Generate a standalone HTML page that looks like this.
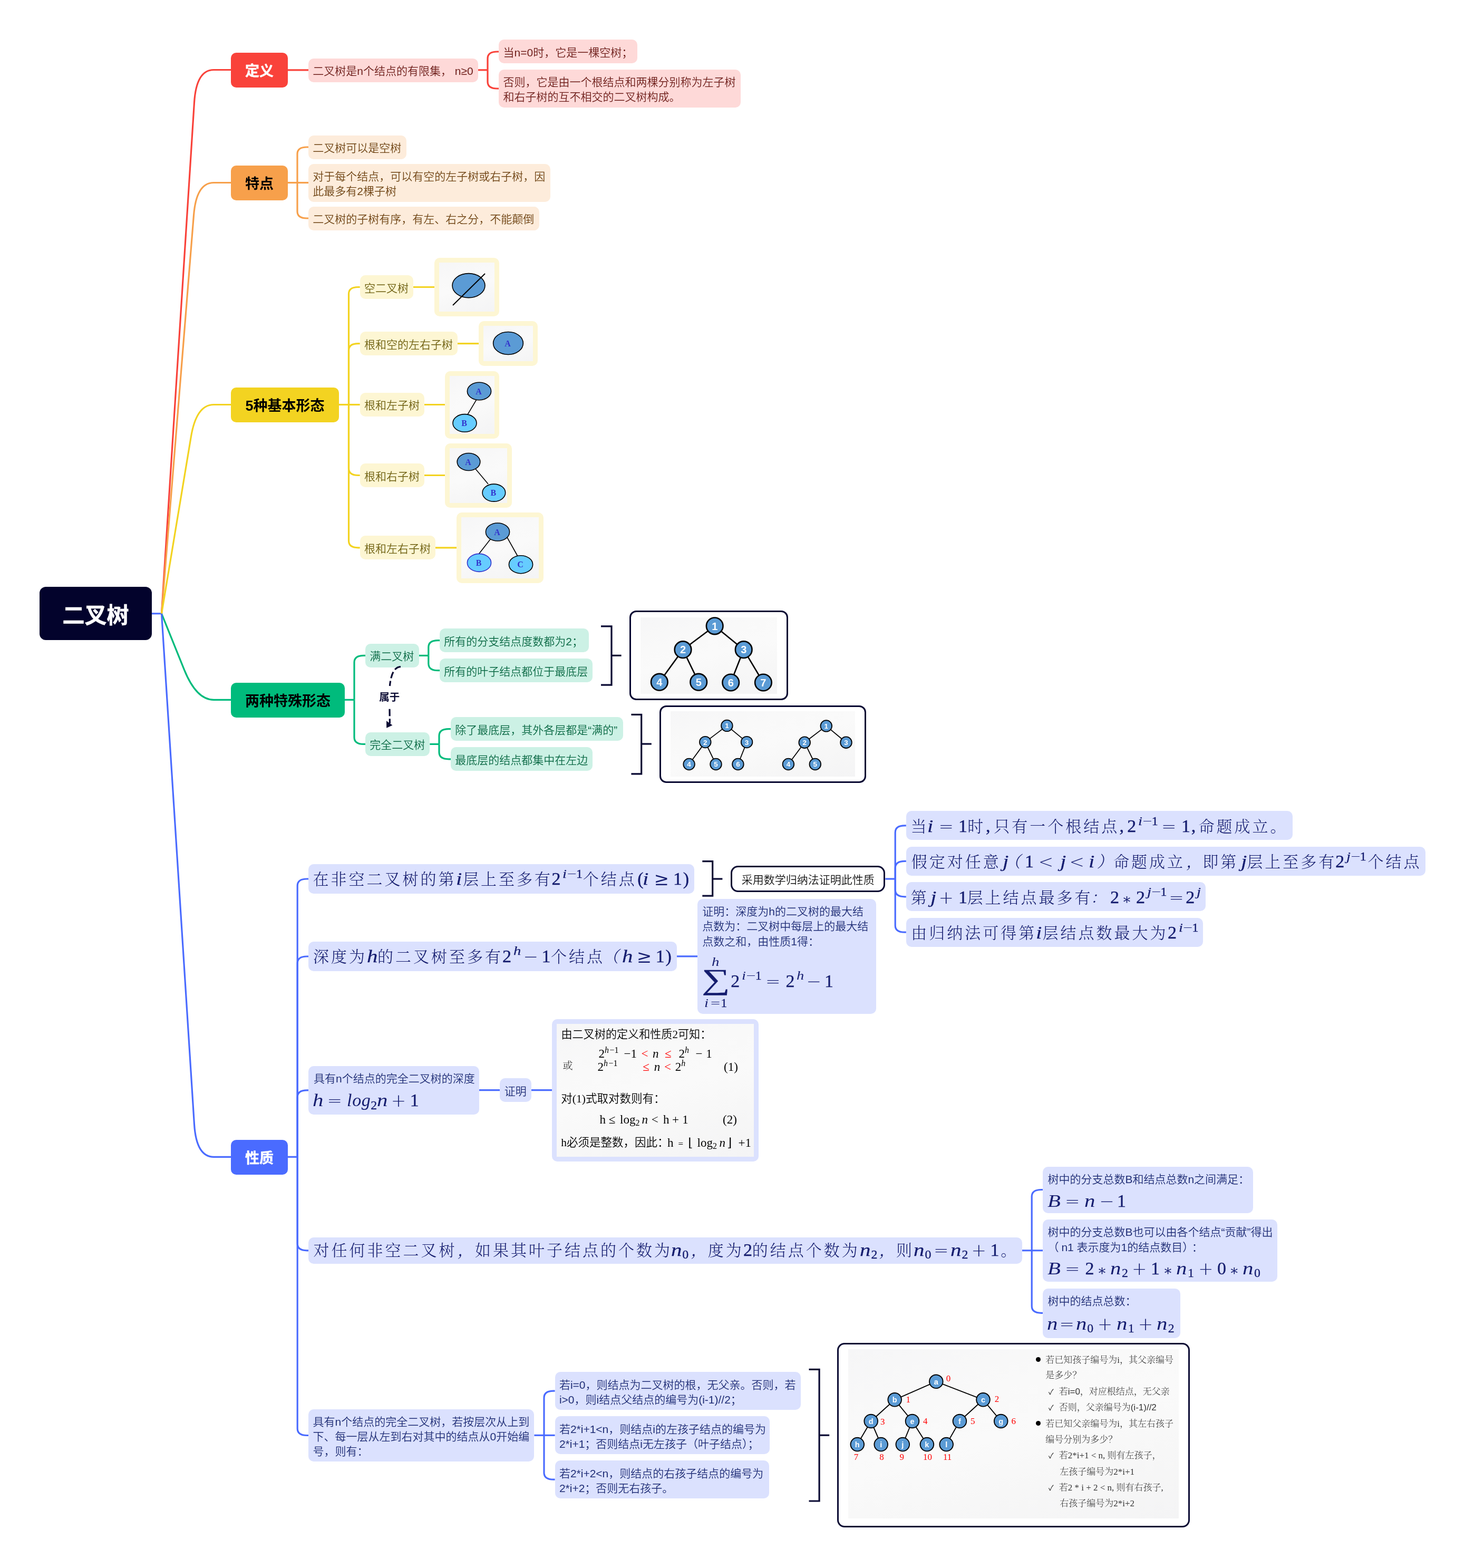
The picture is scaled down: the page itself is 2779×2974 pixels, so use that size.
<!DOCTYPE html>
<html lang="zh-CN"><head><meta charset="utf-8"><title>二叉树</title><style>
html,body{margin:0;padding:0;background:#fff}
#c{position:relative;width:2779px;height:2974px;overflow:hidden;background:#fff;font-family:"Liberation Sans","Noto Sans CJK SC",sans-serif;font-weight:350}
.b{position:absolute;box-sizing:border-box}
.t{position:absolute;white-space:nowrap}
#h{position:absolute;left:0;top:0;width:2779px;height:2974px;will-change:transform}
.bold{font-weight:700}
.g{background:linear-gradient(165deg,#f6f6f7 0%,#f9f9f9 30%,#fafafa 50%,#f7f7f7 72%,#f4f4f5 100%)}
.wt{-webkit-text-stroke:0.016em currentColor}
svg{position:absolute;left:0;top:0}
.m,.mr{font-family:"Liberation Serif","Noto Serif CJK SC",serif;letter-spacing:1.7px}
.m{font-weight:normal;-webkit-text-stroke:0.4px currentColor}
.m .c,.m .o{-webkit-text-stroke:0}
.mr{font-weight:normal}
.m i{font-weight:normal;-webkit-text-stroke:0.25px currentColor}
.m i,.mr i{font-style:italic;display:inline-block;transform:scaleX(1.2);transform-origin:0 50%;margin-right:3px}
sup i,sub i{margin-right:1.5px !important}
.mr i.ns{transform:none;margin-right:0;letter-spacing:0.6px}
.mr{-webkit-text-stroke:0.3px currentColor}
.mr .o,.mr i{-webkit-text-stroke:0}
.m .c,.mr .c{font-size:30px;letter-spacing:4px;font-weight:300}
.m .pu{font-style:italic}
.m sup,.mr sup{font-size:23.8px;vertical-align:baseline;position:relative;top:-13.5px;line-height:0;margin-left:2px}
.m sub,.mr sub{font-size:23.8px;vertical-align:baseline;position:relative;top:5.4px;line-height:0}
.sum{font-size:55px;font-weight:normal;display:inline-block;transform:scaleX(1.37);transform-origin:0 50%;letter-spacing:0}
.o{font-family:"DejaVu Sans Light","DejaVu Serif","Liberation Serif",serif;font-weight:normal;font-style:normal;letter-spacing:0}
.th{-webkit-text-stroke:1.2px #dbe1fe}
.as{font-family:"DejaVu Serif",serif;font-size:0.8em;position:relative;top:2px}
sup .o{margin:0 -2px}
.cm{font-family:"Liberation Serif","DejaVu Serif","Noto Serif CJK SC",serif}
.cm i{font-style:italic}
.cm sup{font-size:16px;vertical-align:baseline;position:relative;top:-9px;line-height:0}
.cm sub{font-size:16px;vertical-align:baseline;position:relative;top:4px;line-height:0}
.rd{color:#f00}
.sf{font-family:"Liberation Serif","Noto Serif CJK SC",serif}
.ss{font-family:"Liberation Sans","Noto Sans CJK SC",sans-serif}
.ck{font-family:"DejaVu Sans",sans-serif;font-size:14px;color:#111}
</style></head>
<body><div id="c">
<svg width="2779" height="2974" viewBox="0 0 2779 2974" stroke-linecap="butt">
<path d="M287.5,1163.8 L307,1163.8" stroke="#4a6bff" stroke-width="3.2" fill="none" />
<path d="M306.5,1163.8 L368.5,194.4 Q372.4,132.5 405.4,132.5 L438,132.5" stroke="#f9423a" stroke-width="3.2" fill="none" />
<path d="M306.5,1163.8 L367.5,408.3 Q372.4,346.5 405.4,346.5 L438,346.5" stroke="#f7a04b" stroke-width="3.2" fill="none" />
<path d="M306.5,1163.8 L362.3,828.7 Q372.4,767.5 405.4,767.5 L438,767.5" stroke="#f3d321" stroke-width="3.2" fill="none" />
<path d="M306.5,1163.8 L349.3,1269.8 Q372.4,1327.3 405.4,1327.3 L438,1327.3" stroke="#00bb7c" stroke-width="3.2" fill="none" />
<path d="M306.5,1163.8 L368.5,2132.4 Q372.4,2194.3 405.4,2194.3 L438,2194.3" stroke="#4a6bff" stroke-width="3.2" fill="none" />
<path d="M546,132.8 L585,132.8" stroke="#f9423a" stroke-width="3.2" fill="none" />
<path d="M907,132.8 L925,132.8" stroke="#f9423a" stroke-width="3.2" fill="none" />
<path d="M925,132.8 L925,111 Q925,98 943,98 L947,98" stroke="#f9423a" stroke-width="3.2" fill="none" />
<path d="M925,132.8 L925,155 Q925,168 943,168 L947,168" stroke="#f9423a" stroke-width="3.2" fill="none" />
<path d="M546,346.5 L564,346.5" stroke="#f7a04b" stroke-width="3.2" fill="none" />
<path d="M564,346.5 L564,292 Q564,279 582,279 L585,279" stroke="#f7a04b" stroke-width="3.2" fill="none" />
<path d="M564,346.5 L585,346.5" stroke="#f7a04b" stroke-width="3.2" fill="none" />
<path d="M564,346.5 L564,401 Q564,414 582,414 L585,414" stroke="#f7a04b" stroke-width="3.2" fill="none" />
<path d="M643,767.5 L661.5,767.5" stroke="#f3d321" stroke-width="3.2" fill="none" />
<path d="M661.5,767.5 L661.5,557.5 Q661.5,544.5 679.5,544.5 L682.7,544.5" stroke="#f3d321" stroke-width="3.2" fill="none" />
<path d="M661.5,767.5 L661.5,664.6 Q661.5,651.6 679.5,651.6 L682.7,651.6" stroke="#f3d321" stroke-width="3.2" fill="none" />
<path d="M661.5,767.5 L682.7,767.5" stroke="#f3d321" stroke-width="3.2" fill="none" />
<path d="M661.5,767.5 L661.5,888.5 Q661.5,901.5 679.5,901.5 L682.7,901.5" stroke="#f3d321" stroke-width="3.2" fill="none" />
<path d="M661.5,767.5 L661.5,1025.8 Q661.5,1038.8 679.5,1038.8 L682.7,1038.8" stroke="#f3d321" stroke-width="3.2" fill="none" />
<path d="M784,544.5 L824,544.5" stroke="#f3d321" stroke-width="3.2" fill="none" />
<path d="M868,651.6 L908,651.6" stroke="#f3d321" stroke-width="3.2" fill="none" />
<path d="M805,767.5 L845,767.5" stroke="#f3d321" stroke-width="3.2" fill="none" />
<path d="M805,901.5 L845,901.5" stroke="#f3d321" stroke-width="3.2" fill="none" />
<path d="M826,1038.8 L866,1038.8" stroke="#f3d321" stroke-width="3.2" fill="none" />
<path d="M654,1327.3 L672,1327.3" stroke="#00bb7c" stroke-width="3.2" fill="none" />
<path d="M672,1327.3 L672,1256.4 Q672,1243.4 690,1243.4 L693,1243.4" stroke="#00bb7c" stroke-width="3.2" fill="none" />
<path d="M672,1327.3 L672,1398.4 Q672,1411.4 690,1411.4 L693,1411.4" stroke="#00bb7c" stroke-width="3.2" fill="none" />
<path d="M794.7,1243.4 L812.8,1243.4" stroke="#00bb7c" stroke-width="3.2" fill="none" />
<path d="M812.8,1243.4 L812.8,1227.7 Q812.8,1214.7 830.8,1214.7 L834,1214.7" stroke="#00bb7c" stroke-width="3.2" fill="none" />
<path d="M812.8,1243.4 L812.8,1258.7 Q812.8,1271.7 830.8,1271.7 L834,1271.7" stroke="#00bb7c" stroke-width="3.2" fill="none" />
<path d="M815.3,1411.4 L833,1411.4" stroke="#00bb7c" stroke-width="3.2" fill="none" />
<path d="M833,1411.4 L833,1395.7 Q833,1382.7 851,1382.7 L855,1382.7" stroke="#00bb7c" stroke-width="3.2" fill="none" />
<path d="M833,1411.4 L833,1426.8 Q833,1439.8 851,1439.8 L855,1439.8" stroke="#00bb7c" stroke-width="3.2" fill="none" />
<path d="M1140,1187.8 L1160,1187.8 L1160,1299.2 L1140,1299.2" stroke="#0a0a33" stroke-width="3.2" fill="none" />
<path d="M1160,1243.3 L1178.6,1243.3" stroke="#0a0a33" stroke-width="3.2" fill="none" />
<path d="M1197.4,1355.4 L1216.7,1355.4 L1216.7,1467.8 L1197.4,1467.8" stroke="#0a0a33" stroke-width="3.2" fill="none" />
<path d="M1216.7,1411 L1235.8,1411" stroke="#0a0a33" stroke-width="3.2" fill="none" />
<path d="M546,2194.3 L564.2,2194.3" stroke="#4a6bff" stroke-width="3.2" fill="none" />
<path d="M564.2,2194.3 L564.2,1680 Q564.2,1667 582.2,1667 L585,1667" stroke="#4a6bff" stroke-width="3.2" fill="none" />
<path d="M564.2,2194.3 L564.2,1827 Q564.2,1814 582.2,1814 L585,1814" stroke="#4a6bff" stroke-width="3.2" fill="none" />
<path d="M564.2,2194.3 L564.2,2080.9 Q564.2,2067.9 582.2,2067.9 L585,2067.9" stroke="#4a6bff" stroke-width="3.2" fill="none" />
<path d="M564.2,2194.3 L564.2,2358.8 Q564.2,2371.8 582.2,2371.8 L585,2371.8" stroke="#4a6bff" stroke-width="3.2" fill="none" />
<path d="M564.2,2194.3 L564.2,2709.5 Q564.2,2722.5 582.2,2722.5 L585,2722.5" stroke="#4a6bff" stroke-width="3.2" fill="none" />
<path d="M1332.3,1633.7 L1351.7,1633.7 L1351.7,1699.2 L1332.3,1699.2" stroke="#0a0a33" stroke-width="3.2" fill="none" />
<path d="M1351.7,1667 L1370.4,1667" stroke="#0a0a33" stroke-width="3.2" fill="none" />
<path d="M1679.4,1667 L1698.2,1667" stroke="#4a6bff" stroke-width="3.2" fill="none" />
<path d="M1698.2,1667 L1698.2,1578.9 Q1698.2,1565.9 1716.2,1565.9 L1718.8,1565.9" stroke="#4a6bff" stroke-width="3.2" fill="none" />
<path d="M1698.2,1667 L1698.2,1646.3 Q1698.2,1633.3 1716.2,1633.3 L1718.8,1633.3" stroke="#4a6bff" stroke-width="3.2" fill="none" />
<path d="M1698.2,1667 L1698.2,1687.8 Q1698.2,1700.8 1716.2,1700.8 L1718.8,1700.8" stroke="#4a6bff" stroke-width="3.2" fill="none" />
<path d="M1698.2,1667 L1698.2,1755.2 Q1698.2,1768.2 1716.2,1768.2 L1718.8,1768.2" stroke="#4a6bff" stroke-width="3.2" fill="none" />
<path d="M1283.6,1813.8 L1323,1813.8" stroke="#4a6bff" stroke-width="3.2" fill="none" />
<path d="M909,2067.7 L948,2067.7" stroke="#4a6bff" stroke-width="3.2" fill="none" />
<path d="M1007.8,2067.7 L1048,2067.7" stroke="#4a6bff" stroke-width="3.2" fill="none" />
<path d="M1939,2371.8 L1957.2,2371.8" stroke="#4a6bff" stroke-width="3.2" fill="none" />
<path d="M1957.2,2371.8 L1957.2,2269.5 Q1957.2,2256.5 1975.2,2256.5 L1978.4,2256.5" stroke="#4a6bff" stroke-width="3.2" fill="none" />
<path d="M1957.2,2371.8 L1978.4,2371.8" stroke="#4a6bff" stroke-width="3.2" fill="none" />
<path d="M1957.2,2371.8 L1957.2,2477.3 Q1957.2,2490.3 1975.2,2490.3 L1978.4,2490.3" stroke="#4a6bff" stroke-width="3.2" fill="none" />
<path d="M1013.4,2722.3 L1032,2722.3" stroke="#4a6bff" stroke-width="3.2" fill="none" />
<path d="M1032,2722.3 L1032,2651.2 Q1032,2638.2 1050,2638.2 L1052.6,2638.2" stroke="#4a6bff" stroke-width="3.2" fill="none" />
<path d="M1032,2722.3 L1052.6,2722.3" stroke="#4a6bff" stroke-width="3.2" fill="none" />
<path d="M1032,2722.3 L1032,2793.2 Q1032,2806.2 1050,2806.2 L1052.6,2806.2" stroke="#4a6bff" stroke-width="3.2" fill="none" />
<path d="M1534.5,2597.4 L1554.1,2597.4 L1554.1,2847 L1534.5,2847" stroke="#0a0a33" stroke-width="3.2" fill="none" />
<path d="M1554.1,2722.2 L1573.2,2722.2" stroke="#0a0a33" stroke-width="3.2" fill="none" />
</svg>
<div id="h">
<div class="b " style="left:75px;top:1113.3px;width:212.9px;height:100.6px;background:#03032c;border-radius:12px;"></div>
<div class="t bold" style="left:-18.5px;top:1137.8px;width:400px;height:60px;line-height:60px;font-size:42px;color:#fff;text-align:center;-webkit-text-stroke:0.6px #fff;">二叉树</div>
<div class="b " style="left:438px;top:100px;width:108px;height:66px;background:#f9423a;border-radius:10px;"></div>
<div class="t bold" style="left:292px;top:115px;width:400px;height:40px;line-height:40px;font-size:27px;color:#fff;text-align:center;-webkit-text-stroke:0.45px #fff;">定义</div>
<div class="b " style="left:585px;top:110.5px;width:322px;height:45px;background:#fed9d8;border-radius:10px;"></div>
<div class="t " style="left:593.3px;top:115px;height:40px;line-height:40px;font-size:21px;color:#6c1c18;">二叉树是n个结点的有限集， n≥0</div>
<div class="b " style="left:946.3px;top:75px;width:262.3px;height:45px;background:#fed9d8;border-radius:10px;"></div>
<div class="t " style="left:954.6px;top:79.5px;height:40px;line-height:40px;font-size:21px;color:#6c1c18;">当n=0时，它是一棵空树；</div>
<div class="b " style="left:946.3px;top:132.2px;width:459px;height:72px;background:#fed9d8;border-radius:10px;"></div>
<div class="t " style="left:954.6px;top:136.2px;height:40px;line-height:40px;font-size:21px;color:#6c1c18;">否则，它是由一个根结点和两棵分别称为左子树</div>
<div class="t " style="left:954.6px;top:164.2px;height:40px;line-height:40px;font-size:21px;color:#6c1c18;">和右子树的互不相交的二叉树构成。</div>
<div class="b " style="left:438px;top:313.5px;width:108px;height:66px;background:#f7a04b;border-radius:10px;"></div>
<div class="t bold" style="left:292px;top:328.5px;width:400px;height:40px;line-height:40px;font-size:27px;color:#000;text-align:center;">特点</div>
<div class="b " style="left:585px;top:256.5px;width:185.5px;height:45px;background:#fdecdb;border-radius:10px;"></div>
<div class="t " style="left:593.3px;top:261px;height:40px;line-height:40px;font-size:21px;color:#704515;">二叉树可以是空树</div>
<div class="b " style="left:585px;top:310.5px;width:458.5px;height:72px;background:#fdecdb;border-radius:10px;"></div>
<div class="t " style="left:593.3px;top:314.5px;height:40px;line-height:40px;font-size:21px;color:#704515;">对于每个结点，可以有空的左子树或右子树，因</div>
<div class="t " style="left:593.3px;top:342.5px;height:40px;line-height:40px;font-size:21px;color:#704515;">此最多有2棵子树</div>
<div class="b " style="left:585px;top:391.5px;width:437.5px;height:45px;background:#fdecdb;border-radius:10px;"></div>
<div class="t " style="left:593.3px;top:396px;height:40px;line-height:40px;font-size:21px;color:#704515;">二叉树的子树有序，有左、右之分，不能颠倒</div>
<div class="b " style="left:438px;top:734.5px;width:205px;height:66px;background:#f3d321;border-radius:10px;"></div>
<div class="t bold" style="left:340.5px;top:749.5px;width:400px;height:40px;line-height:40px;font-size:27px;color:#000;text-align:center;">5种基本形态</div>
<div class="b " style="left:682.7px;top:522px;width:101.3px;height:45px;background:#fdf6d3;border-radius:10px;"></div>
<div class="t " style="left:691px;top:526.5px;height:40px;line-height:40px;font-size:21px;color:#6d5f0f;">空二叉树</div>
<div class="b " style="left:682.7px;top:629.1px;width:185.3px;height:45px;background:#fdf6d3;border-radius:10px;"></div>
<div class="t " style="left:691px;top:633.6px;height:40px;line-height:40px;font-size:21px;color:#6d5f0f;">根和空的左右子树</div>
<div class="b " style="left:682.7px;top:744.9px;width:122.3px;height:45px;background:#fdf6d3;border-radius:10px;"></div>
<div class="t " style="left:691px;top:749.4px;height:40px;line-height:40px;font-size:21px;color:#6d5f0f;">根和左子树</div>
<div class="b " style="left:682.7px;top:879.2px;width:122.3px;height:45px;background:#fdf6d3;border-radius:10px;"></div>
<div class="t " style="left:691px;top:883.7px;height:40px;line-height:40px;font-size:21px;color:#6d5f0f;">根和右子树</div>
<div class="b " style="left:682.7px;top:1016.4px;width:143.3px;height:45px;background:#fdf6d3;border-radius:10px;"></div>
<div class="t " style="left:691px;top:1020.9px;height:40px;line-height:40px;font-size:21px;color:#6d5f0f;">根和左右子树</div>
<div class="b" style="left:823.5px;top:489px;width:123.5px;height:110.6px;background:#fdf6d3;border-radius:10px;"></div>
<div class="b g" style="left:832.5px;top:498px;width:105.5px;height:92.6px;"></div>
<div class="b" style="left:907.5px;top:609px;width:112.5px;height:85px;background:#fdf6d3;border-radius:10px;"></div>
<div class="b g" style="left:916.5px;top:618px;width:94.5px;height:67px;"></div>
<div class="b" style="left:844.4px;top:703.7px;width:102.4px;height:128px;background:#fdf6d3;border-radius:10px;"></div>
<div class="b g" style="left:853.4px;top:712.7px;width:84.4px;height:110px;"></div>
<div class="b" style="left:844.4px;top:841px;width:126.4px;height:121.7px;background:#fdf6d3;border-radius:10px;"></div>
<div class="b g" style="left:853.4px;top:850px;width:108.4px;height:103.7px;"></div>
<div class="b" style="left:865.8px;top:972px;width:165.2px;height:134px;background:#fdf6d3;border-radius:10px;"></div>
<div class="b g" style="left:874.8px;top:981px;width:147.2px;height:116px;"></div>
<div class="b " style="left:438px;top:1294.5px;width:216px;height:66px;background:#00bb7c;border-radius:10px;"></div>
<div class="t bold" style="left:346px;top:1309.5px;width:400px;height:40px;line-height:40px;font-size:27px;color:#000;text-align:center;">两种特殊形态</div>
<div class="b " style="left:693px;top:1220.8px;width:101.7px;height:45px;background:#ccf1e5;border-radius:10px;"></div>
<div class="t " style="left:701.3px;top:1225.3px;height:40px;line-height:40px;font-size:21px;color:#0b6a45;">满二叉树</div>
<div class="b " style="left:693px;top:1388.9px;width:122.3px;height:45px;background:#ccf1e5;border-radius:10px;"></div>
<div class="t " style="left:701.3px;top:1393.4px;height:40px;line-height:40px;font-size:21px;color:#0b6a45;">完全二叉树</div>
<div class="b " style="left:834px;top:1192.3px;width:283px;height:45px;background:#ccf1e5;border-radius:10px;"></div>
<div class="t " style="left:842.3px;top:1196.8px;height:40px;line-height:40px;font-size:21px;color:#0b6a45;">所有的分支结点度数都为2；</div>
<div class="b " style="left:834px;top:1249.2px;width:290.4px;height:45px;background:#ccf1e5;border-radius:10px;"></div>
<div class="t " style="left:842.3px;top:1253.8px;height:40px;line-height:40px;font-size:21px;color:#0b6a45;">所有的叶子结点都位于最底层</div>
<div class="b " style="left:855px;top:1360.2px;width:326.5px;height:45px;background:#ccf1e5;border-radius:10px;"></div>
<div class="t " style="left:863.3px;top:1364.8px;height:40px;line-height:40px;font-size:21px;color:#0b6a45;">除了最底层，其外各层都是“满的”</div>
<div class="b " style="left:855px;top:1417.4px;width:269.4px;height:45px;background:#ccf1e5;border-radius:10px;"></div>
<div class="t " style="left:863.3px;top:1421.9px;height:40px;line-height:40px;font-size:21px;color:#0b6a45;">最底层的结点都集中在左边</div>
<div class="t bold" style="left:538.8px;top:1307px;width:400px;height:30px;line-height:30px;font-size:19.5px;color:#0a0a33;text-align:center;">属于</div>
<div class="b" style="left:1193.8px;top:1158.3px;width:301.2px;height:169.6px;background:#fff;border:3px solid #0a0a33;border-radius:13px;"></div>
<div class="b g" style="left:1214.9px;top:1170.5px;width:259.1px;height:145.9px;"></div>
<div class="b" style="left:1250.8px;top:1338px;width:391.8px;height:146.8px;background:#fff;border:3px solid #0a0a33;border-radius:13px;"></div>
<div class="b g" style="left:1271.7px;top:1349.3px;width:350.1px;height:124px;"></div>
<div class="b " style="left:438px;top:2161.5px;width:108px;height:66px;background:#4a6bff;border-radius:10px;"></div>
<div class="t bold" style="left:292px;top:2176.5px;width:400px;height:40px;line-height:40px;font-size:27px;color:#fff;text-align:center;-webkit-text-stroke:0.45px #fff;">性质</div>
<div class="b " style="left:585px;top:1638.7px;width:731.5px;height:56.6px;background:#dbe1fe;border-radius:10px;"></div>
<div class="t m" style="left:593.4px;top:1642.1px;height:50px;line-height:50px;font-size:34px;color:#141c6e;"><span class="c">在非空二叉树的第</span></div>
<div class="t m" style="left:865px;top:1642.1px;height:50px;line-height:50px;font-size:34px;color:#141c6e;"><i>i</i></div>
<div class="t m" style="left:878px;top:1642.1px;height:50px;line-height:50px;font-size:34px;color:#141c6e;"><span class="c">层上至多有</span></div>
<div class="t m" style="left:1046.6px;top:1642.1px;height:50px;line-height:50px;font-size:34px;color:#141c6e;">2<sup><i>i</i><span class="o">−</span>1</sup></div>
<div class="t m" style="left:1105.8px;top:1642.1px;height:50px;line-height:50px;font-size:34px;color:#141c6e;"><span class="c">个结点</span></div>
<div class="t m" style="left:1209.2px;top:1642.1px;height:50px;line-height:50px;font-size:34px;color:#141c6e;">(</div>
<div class="t m" style="left:1219px;top:1642.1px;height:50px;line-height:50px;font-size:34px;color:#141c6e;"><i>i</i></div>
<div class="t m" style="left:1240.6px;top:1642.1px;height:50px;line-height:50px;font-size:34px;color:#141c6e;"><span class="o th">≥</span></div>
<div class="t m" style="left:1277px;top:1642.1px;height:50px;line-height:50px;font-size:34px;color:#141c6e;">1)</div>
<div class="b" style="left:1386.2px;top:1642px;width:293.2px;height:49.5px;box-sizing:border-box;background:#fff;border:3px solid #0a0a33;border-radius:14px;"></div>
<div class="t " style="left:1332.8px;top:1649px;width:400px;height:40px;line-height:40px;font-size:21px;color:#111;text-align:center;">采用数学归纳法证明此性质</div>
<div class="b " style="left:1718.8px;top:1538.4px;width:733.1px;height:55px;background:#dbe1fe;border-radius:10px;"></div>
<div class="t m" style="left:1727.7px;top:1542px;height:50px;line-height:50px;font-size:34px;color:#141c6e;"><span class="c">当</span></div>
<div class="t m" style="left:1759.4px;top:1542px;height:50px;line-height:50px;font-size:34px;color:#141c6e;"><i>i</i></div>
<div class="t m" style="left:1780.6px;top:1542px;height:50px;line-height:50px;font-size:34px;color:#141c6e;"><span class="o">=</span></div>
<div class="t m" style="left:1818px;top:1542px;height:50px;line-height:50px;font-size:34px;color:#141c6e;">1</div>
<div class="t m" style="left:1835.2px;top:1542px;height:50px;line-height:50px;font-size:34px;color:#141c6e;"><span class="c">时</span></div>
<div class="t m" style="left:1870px;top:1542px;height:50px;line-height:50px;font-size:34px;color:#141c6e;">,</div>
<div class="t m" style="left:1885.3px;top:1542px;height:50px;line-height:50px;font-size:34px;color:#141c6e;"><span class="c">只有一个根结点</span></div>
<div class="t m" style="left:2123.6px;top:1542px;height:50px;line-height:50px;font-size:34px;color:#141c6e;">,</div>
<div class="t m" style="left:2138.2px;top:1542px;height:50px;line-height:50px;font-size:34px;color:#141c6e;">2<sup><i>i</i><span class="o">−</span>1</sup></div>
<div class="t m" style="left:2203px;top:1542px;height:50px;line-height:50px;font-size:34px;color:#141c6e;"><span class="o">=</span></div>
<div class="t m" style="left:2241px;top:1542px;height:50px;line-height:50px;font-size:34px;color:#141c6e;">1,</div>
<div class="t m" style="left:2273.5px;top:1542px;height:50px;line-height:50px;font-size:34px;color:#141c6e;"><span class="c">命题成立。</span></div>
<div class="b " style="left:1718.8px;top:1605.9px;width:985.2px;height:55px;background:#dbe1fe;border-radius:10px;"></div>
<div class="t m" style="left:1728.7px;top:1609.3px;height:50px;line-height:50px;font-size:34px;color:#141c6e;"><span class="c">假定对任意</span></div>
<div class="t m" style="left:1901.6px;top:1609.3px;height:50px;line-height:50px;font-size:34px;color:#141c6e;"><i>j</i></div>
<div class="t m" style="left:1905.7px;top:1609.3px;height:50px;line-height:50px;font-size:34px;color:#141c6e;"><span class="c pu">（</span></div>
<div class="t m" style="left:1944px;top:1609.3px;height:50px;line-height:50px;font-size:34px;color:#141c6e;">1</div>
<div class="t m" style="left:1969.8px;top:1609.3px;height:50px;line-height:50px;font-size:34px;color:#141c6e;"><span class="o">&lt;</span></div>
<div class="t m" style="left:2010.8px;top:1609.3px;height:50px;line-height:50px;font-size:34px;color:#141c6e;"><i>j</i></div>
<div class="t m" style="left:2028.6px;top:1609.3px;height:50px;line-height:50px;font-size:34px;color:#141c6e;"><span class="o">&lt;</span></div>
<div class="t m" style="left:2064.5px;top:1609.3px;height:50px;line-height:50px;font-size:34px;color:#141c6e;"><i>i</i></div>
<div class="t m" style="left:2080.7px;top:1609.3px;height:50px;line-height:50px;font-size:34px;color:#141c6e;"><span class="c pu">）</span></div>
<div class="t m" style="left:2112px;top:1609.3px;height:50px;line-height:50px;font-size:34px;color:#141c6e;"><span class="c">命题成立</span></div>
<div class="t m" style="left:2250px;top:1609.3px;height:50px;line-height:50px;font-size:34px;color:#141c6e;"><span class="c pu">，</span></div>
<div class="t m" style="left:2281.2px;top:1609.3px;height:50px;line-height:50px;font-size:34px;color:#141c6e;"><span class="c">即第</span></div>
<div class="t m" style="left:2353.5px;top:1609.3px;height:50px;line-height:50px;font-size:34px;color:#141c6e;"><i>j</i></div>
<div class="t m" style="left:2365.3px;top:1609.3px;height:50px;line-height:50px;font-size:34px;color:#141c6e;"><span class="c">层上至多有</span></div>
<div class="t m" style="left:2533.2px;top:1609.3px;height:50px;line-height:50px;font-size:34px;color:#141c6e;">2<sup><i>j</i><span class="o">−</span>1</sup></div>
<div class="t m" style="left:2594.6px;top:1609.3px;height:50px;line-height:50px;font-size:34px;color:#141c6e;"><span class="c">个结点</span></div>
<div class="b " style="left:1718.8px;top:1673.4px;width:568.1px;height:55px;background:#dbe1fe;border-radius:10px;"></div>
<div class="t m" style="left:1727.7px;top:1676.8px;height:50px;line-height:50px;font-size:34px;color:#141c6e;"><span class="c">第</span></div>
<div class="t m" style="left:1765.4px;top:1676.8px;height:50px;line-height:50px;font-size:34px;color:#141c6e;"><i>j</i></div>
<div class="t m" style="left:1780.6px;top:1676.8px;height:50px;line-height:50px;font-size:34px;color:#141c6e;"><span class="o">+</span></div>
<div class="t m" style="left:1818px;top:1676.8px;height:50px;line-height:50px;font-size:34px;color:#141c6e;">1</div>
<div class="t m" style="left:1834.6px;top:1676.8px;height:50px;line-height:50px;font-size:34px;color:#141c6e;"><span class="c">层上结点最多有</span></div>
<div class="t m" style="left:2068.6px;top:1676.8px;height:50px;line-height:50px;font-size:34px;color:#141c6e;"><span class="c pu">：</span></div>
<div class="t m" style="left:2106px;top:1676.8px;height:50px;line-height:50px;font-size:34px;color:#141c6e;">2</div>
<div class="t m" style="left:2128.3px;top:1676.8px;height:50px;line-height:50px;font-size:34px;color:#141c6e;"><span class="o as">∗</span></div>
<div class="t m" style="left:2155px;top:1676.8px;height:50px;line-height:50px;font-size:34px;color:#141c6e;">2<sup><i>j</i><span class="o">−</span>1</sup></div>
<div class="t m" style="left:2217.2px;top:1676.8px;height:50px;line-height:50px;font-size:34px;color:#141c6e;"><span class="o">=</span></div>
<div class="t m" style="left:2249.3px;top:1676.8px;height:50px;line-height:50px;font-size:34px;color:#141c6e;">2<sup><i>j</i></sup></div>
<div class="b " style="left:1718.8px;top:1740.9px;width:563.5px;height:55px;background:#dbe1fe;border-radius:10px;"></div>
<div class="t m" style="left:1728.3px;top:1744.2px;height:50px;line-height:50px;font-size:34px;color:#141c6e;"><span class="c">由归纳法可得第</span></div>
<div class="t m" style="left:1965.4px;top:1744.2px;height:50px;line-height:50px;font-size:34px;color:#141c6e;"><i>i</i></div>
<div class="t m" style="left:1977.4px;top:1744.2px;height:50px;line-height:50px;font-size:34px;color:#141c6e;"><span class="c">层结点数最大为</span></div>
<div class="t m" style="left:2215px;top:1744.2px;height:50px;line-height:50px;font-size:34px;color:#141c6e;">2<sup><i>i</i><span class="o">−</span>1</sup></div>
<div class="b " style="left:585px;top:1785.8px;width:698.6px;height:56.5px;background:#dbe1fe;border-radius:10px;"></div>
<div class="t m" style="left:594.1px;top:1788.9px;height:50px;line-height:50px;font-size:34px;color:#141c6e;"><span class="c">深度为</span></div>
<div class="t m" style="left:696.3px;top:1788.9px;height:50px;line-height:50px;font-size:34px;color:#141c6e;"><i>h</i></div>
<div class="t m" style="left:715.9px;top:1788.9px;height:50px;line-height:50px;font-size:34px;color:#141c6e;"><span class="c">的二叉树至多有</span></div>
<div class="t m" style="left:953.1px;top:1788.9px;height:50px;line-height:50px;font-size:34px;color:#141c6e;">2<sup><i>h</i></sup></div>
<div class="t m" style="left:992.4px;top:1788.9px;height:50px;line-height:50px;font-size:34px;color:#141c6e;"><span class="o">−</span></div>
<div class="t m" style="left:1027.4px;top:1788.9px;height:50px;line-height:50px;font-size:34px;color:#141c6e;">1</div>
<div class="t m" style="left:1044.9px;top:1788.9px;height:50px;line-height:50px;font-size:34px;color:#141c6e;"><span class="c">个结点</span></div>
<div class="t m" style="left:1143.6px;top:1788.9px;height:50px;line-height:50px;font-size:34px;color:#141c6e;"><span class="c pu">（</span></div>
<div class="t m" style="left:1180px;top:1788.9px;height:50px;line-height:50px;font-size:34px;color:#141c6e;"><i>h</i></div>
<div class="t m" style="left:1207.7px;top:1788.9px;height:50px;line-height:50px;font-size:34px;color:#141c6e;"><span class="o th">≥</span></div>
<div class="t m" style="left:1243.8px;top:1788.9px;height:50px;line-height:50px;font-size:34px;color:#141c6e;">1)</div>
<div class="b " style="left:1323px;top:1704.6px;width:338.7px;height:218.4px;background:#dbe1fe;border-radius:10px;"></div>
<div class="t " style="left:1332.3px;top:1709px;height:40px;line-height:40px;font-size:21px;color:#1f2d75;">证明：深度为h的二叉树的最大结</div>
<div class="t " style="left:1332.3px;top:1737.1px;height:40px;line-height:40px;font-size:21px;color:#1f2d75;">点数为：二叉树中每层上的最大结</div>
<div class="t " style="left:1332.3px;top:1765.6px;height:40px;line-height:40px;font-size:21px;color:#1f2d75;">点数之和，由性质1得：</div>
<div class="t mr" style="left:1330.8px;top:1832.5px;height:50px;line-height:50px;font-size:34px;color:#141c6e;"><span class="sum">∑</span></div>
<div class="t mr" style="left:1349.6px;top:1799px;height:50px;line-height:50px;font-size:24px;color:#141c6e;"><i>h</i></div>
<div class="t mr" style="left:1335.7px;top:1876.6px;height:50px;line-height:50px;font-size:24px;color:#141c6e;"><i>i</i><span class="o">=</span>1</div>
<div class="t mr" style="left:1386.2px;top:1835.9px;height:50px;line-height:50px;font-size:34px;color:#141c6e;">2<sup><i>i</i><span class="o">−</span>1</sup></div>
<div class="t mr" style="left:1452px;top:1835.9px;height:50px;line-height:50px;font-size:34px;color:#141c6e;"><span class="o">=</span></div>
<div class="t mr" style="left:1490.6px;top:1835.9px;height:50px;line-height:50px;font-size:34px;color:#141c6e;">2<sup><i>h</i></sup></div>
<div class="t mr" style="left:1529.6px;top:1835.9px;height:50px;line-height:50px;font-size:34px;color:#141c6e;"><span class="o">−</span></div>
<div class="t mr" style="left:1564px;top:1835.9px;height:50px;line-height:50px;font-size:34px;color:#141c6e;">1</div>
<div class="b " style="left:585px;top:2021.7px;width:324px;height:92.3px;background:#dbe1fe;border-radius:10px;"></div>
<div class="t " style="left:595px;top:2026.2px;height:40px;line-height:40px;font-size:21px;color:#1f2d75;">具有n个结点的完全二叉树的深度</div>
<div class="t mr" style="left:593px;top:2062.4px;height:50px;line-height:50px;font-size:34px;color:#141c6e;"><i>h</i></div>
<div class="t mr" style="left:620.6px;top:2062.4px;height:50px;line-height:50px;font-size:34px;color:#141c6e;"><span class="o">=</span></div>
<div class="t mr" style="left:658.1px;top:2062.4px;height:50px;line-height:50px;font-size:34px;color:#141c6e;"><i class="ns">log</i><sub>2</sub></div>
<div class="t mr" style="left:715.4px;top:2062.4px;height:50px;line-height:50px;font-size:34px;color:#141c6e;"><i>n</i></div>
<div class="t mr" style="left:741.7px;top:2062.4px;height:50px;line-height:50px;font-size:34px;color:#141c6e;"><span class="o">+</span></div>
<div class="t mr" style="left:777.7px;top:2062.4px;height:50px;line-height:50px;font-size:34px;color:#141c6e;">1</div>
<div class="b " style="left:947.8px;top:2045.4px;width:60px;height:45px;background:#dbe1fe;border-radius:10px;"></div>
<div class="t " style="left:956.8px;top:2049.9px;height:40px;line-height:40px;font-size:21px;color:#1f2d75;">证明</div>
<div class="b" style="left:1047.4px;top:1932.7px;width:391.6px;height:270.1px;background:#dbe1fe;border-radius:10px;"></div>
<div class="b g" style="left:1056.4px;top:1941.7px;width:373.6px;height:252.1px;"></div>
<div class="t " style="left:1064.5px;top:1941.9px;height:40px;line-height:40px;font-size:21.1px;color:#000;">由二叉树的定义和性质<span class="sf">2</span>可知：</div>
<div class="t cm" style="left:1135.5px;top:1974.1px;height:50px;line-height:50px;font-size:23px;color:#000;">2<sup><i>h</i>−1</sup></div>
<div class="t cm" style="left:1183.6px;top:1974.1px;height:50px;line-height:50px;font-size:23px;color:#000;">−1</div>
<div class="t cm" style="left:1216.5px;top:1974.1px;height:50px;line-height:50px;font-size:23px;color:#000;"><span class="rd">&lt;</span></div>
<div class="t cm" style="left:1238px;top:1974.1px;height:50px;line-height:50px;font-size:23px;color:#000;"><i>n</i></div>
<div class="t cm" style="left:1261.1px;top:1974.1px;height:50px;line-height:50px;font-size:23px;color:#000;"><span class="rd">≤</span></div>
<div class="t cm" style="left:1287.5px;top:1974.1px;height:50px;line-height:50px;font-size:23px;color:#000;">2<sup><i>h</i></sup></div>
<div class="t cm" style="left:1319.4px;top:1974.1px;height:50px;line-height:50px;font-size:23px;color:#000;">−</div>
<div class="t cm" style="left:1339.3px;top:1974.1px;height:50px;line-height:50px;font-size:23px;color:#000;">1</div>
<div class="t sf" style="left:1067.5px;top:2001.6px;height:40px;line-height:40px;font-size:19px;color:#222;">或</div>
<div class="t cm" style="left:1133.6px;top:1999.1px;height:50px;line-height:50px;font-size:23px;color:#000;">2<sup><i>h</i>−1</sup></div>
<div class="t cm" style="left:1219.2px;top:1999.1px;height:50px;line-height:50px;font-size:23px;color:#000;"><span class="rd">≤</span></div>
<div class="t cm" style="left:1240.8px;top:1999.1px;height:50px;line-height:50px;font-size:23px;color:#000;"><i>n</i></div>
<div class="t cm" style="left:1260px;top:1999.1px;height:50px;line-height:50px;font-size:23px;color:#000;"><span class="rd">&lt;</span></div>
<div class="t cm" style="left:1280.8px;top:1999.1px;height:50px;line-height:50px;font-size:23px;color:#000;">2<sup><i>h</i></sup></div>
<div class="t cm" style="left:1373.1px;top:1999.1px;height:50px;line-height:50px;font-size:23px;color:#000;">(1)</div>
<div class="t " style="left:1064.3px;top:2064.1px;height:40px;line-height:40px;font-size:21.5px;color:#000;">对<span class="sf">(1)</span>式取对数则有：</div>
<div class="t cm" style="left:1137.6px;top:2099.1px;height:50px;line-height:50px;font-size:23px;color:#000;">h</div>
<div class="t cm" style="left:1154.7px;top:2099.1px;height:50px;line-height:50px;font-size:23px;color:#000;">≤</div>
<div class="t cm" style="left:1176px;top:2099.1px;height:50px;line-height:50px;font-size:23px;color:#000;">log<sub>2</sub></div>
<div class="t cm" style="left:1217.6px;top:2099.1px;height:50px;line-height:50px;font-size:23px;color:#000;"><i>n</i></div>
<div class="t cm" style="left:1235.7px;top:2099.1px;height:50px;line-height:50px;font-size:23px;color:#000;">&lt;</div>
<div class="t cm" style="left:1258px;top:2099.1px;height:50px;line-height:50px;font-size:23px;color:#000;">h</div>
<div class="t cm" style="left:1275px;top:2099.1px;height:50px;line-height:50px;font-size:23px;color:#000;">+</div>
<div class="t cm" style="left:1294.2px;top:2099.1px;height:50px;line-height:50px;font-size:23px;color:#000;">1</div>
<div class="t cm" style="left:1371px;top:2099.1px;height:50px;line-height:50px;font-size:23px;color:#000;">(2)</div>
<div class="t " style="left:1064.3px;top:2147.4px;height:40px;line-height:40px;font-size:21.5px;color:#000;"><span class="sf">h</span>必须是整数，因此：</div>
<div class="t cm" style="left:1266px;top:2142.6px;height:50px;line-height:50px;font-size:23px;color:#000;">h</div>
<div class="t cm" style="left:1286.4px;top:2142.6px;height:50px;line-height:50px;font-size:23px;color:#000;"><span style="font-size:17px">=</span></div>
<div class="t cm" style="left:1305.3px;top:2142.6px;height:50px;line-height:50px;font-size:23px;color:#000;">⌊</div>
<div class="t cm" style="left:1322.5px;top:2142.6px;height:50px;line-height:50px;font-size:23px;color:#000;">log<sub>2</sub></div>
<div class="t cm" style="left:1364.6px;top:2142.6px;height:50px;line-height:50px;font-size:23px;color:#000;"><i>n</i></div>
<div class="t cm" style="left:1379.3px;top:2142.6px;height:50px;line-height:50px;font-size:23px;color:#000;">⌋</div>
<div class="t cm" style="left:1400.5px;top:2142.6px;height:50px;line-height:50px;font-size:23px;color:#000;">+1</div>
<div class="b " style="left:585px;top:2347px;width:1354px;height:49.5px;background:#dbe1fe;border-radius:10px;"></div>
<div class="t m" style="left:594.4px;top:2345.5px;height:50px;line-height:50px;font-size:34px;color:#141c6e;"><span class="c">对任何非空二叉树</span></div>
<div class="t m" style="left:867.7px;top:2345.5px;height:50px;line-height:50px;font-size:34px;color:#141c6e;"><span class="c pu">，</span></div>
<div class="t m" style="left:900.9px;top:2345.5px;height:50px;line-height:50px;font-size:34px;color:#141c6e;"><span class="c">如果其叶子结点的个数为</span></div>
<div class="t m" style="left:1272.6px;top:2345.5px;height:50px;line-height:50px;font-size:34px;color:#141c6e;"><i>n</i><sub>0</sub></div>
<div class="t m" style="left:1310.5px;top:2345.5px;height:50px;line-height:50px;font-size:34px;color:#141c6e;"><span class="c pu">，</span></div>
<div class="t m" style="left:1342.7px;top:2345.5px;height:50px;line-height:50px;font-size:34px;color:#141c6e;"><span class="c">度为</span></div>
<div class="t m" style="left:1410px;top:2345.5px;height:50px;line-height:50px;font-size:34px;color:#141c6e;">2</div>
<div class="t m" style="left:1426.8px;top:2345.5px;height:50px;line-height:50px;font-size:34px;color:#141c6e;"><span class="c">的结点个数为</span></div>
<div class="t m" style="left:1630.7px;top:2345.5px;height:50px;line-height:50px;font-size:34px;color:#141c6e;"><i>n</i><sub>2</sub></div>
<div class="t m" style="left:1667.6px;top:2345.5px;height:50px;line-height:50px;font-size:34px;color:#141c6e;"><span class="c pu">，</span></div>
<div class="t m" style="left:1700px;top:2345.5px;height:50px;line-height:50px;font-size:34px;color:#141c6e;"><span class="c">则</span></div>
<div class="t m" style="left:1732.8px;top:2345.5px;height:50px;line-height:50px;font-size:34px;color:#141c6e;"><i>n</i><sub>0</sub></div>
<div class="t m" style="left:1771.1px;top:2345.5px;height:50px;line-height:50px;font-size:34px;color:#141c6e;"><span class="o">=</span></div>
<div class="t m" style="left:1802.7px;top:2345.5px;height:50px;line-height:50px;font-size:34px;color:#141c6e;"><i>n</i><sub>2</sub></div>
<div class="t m" style="left:1842.4px;top:2345.5px;height:50px;line-height:50px;font-size:34px;color:#141c6e;"><span class="o">+</span></div>
<div class="t m" style="left:1878.5px;top:2345.5px;height:50px;line-height:50px;font-size:34px;color:#141c6e;">1</div>
<div class="t m" style="left:1898.2px;top:2345.5px;height:50px;line-height:50px;font-size:34px;color:#141c6e;"><span class="c">。</span></div>
<div class="b " style="left:1978.4px;top:2212.5px;width:398.5px;height:88.4px;background:#dbe1fe;border-radius:10px;"></div>
<div class="t " style="left:1987.4px;top:2217.1px;height:40px;line-height:40px;font-size:21px;color:#1f2d75;">树中的分支总数B和结点总数n之间满足：</div>
<div class="t mr" style="left:1987.3px;top:2252.6px;height:50px;line-height:50px;font-size:34px;color:#141c6e;"><i>B</i></div>
<div class="t mr" style="left:2020px;top:2252.6px;height:50px;line-height:50px;font-size:34px;color:#141c6e;"><span class="o">=</span></div>
<div class="t mr" style="left:2056.9px;top:2252.6px;height:50px;line-height:50px;font-size:34px;color:#141c6e;"><i>n</i></div>
<div class="t mr" style="left:2085.2px;top:2252.6px;height:50px;line-height:50px;font-size:34px;color:#141c6e;"><span class="o">−</span></div>
<div class="t mr" style="left:2119px;top:2252.6px;height:50px;line-height:50px;font-size:34px;color:#141c6e;">1</div>
<div class="b " style="left:1978.4px;top:2313.3px;width:445px;height:117.7px;background:#dbe1fe;border-radius:10px;"></div>
<div class="t " style="left:1987.4px;top:2317.4px;height:40px;line-height:40px;font-size:21px;color:#1f2d75;">树中的分支总数B也可以由各个结点“贡献”得出</div>
<div class="t " style="left:1987.4px;top:2346.4px;height:40px;line-height:40px;font-size:21px;color:#1f2d75;">（<span style="margin-left:5px">n1</span> 表示度为1的结点数目）<span style="margin-left:7px">：</span></div>
<div class="t mr" style="left:1987.3px;top:2380.5px;height:50px;line-height:50px;font-size:34px;color:#141c6e;"><i>B</i></div>
<div class="t mr" style="left:2020px;top:2380.5px;height:50px;line-height:50px;font-size:34px;color:#141c6e;"><span class="o">=</span></div>
<div class="t mr" style="left:2058.5px;top:2380.5px;height:50px;line-height:50px;font-size:34px;color:#141c6e;">2</div>
<div class="t mr" style="left:2081.2px;top:2380.5px;height:50px;line-height:50px;font-size:34px;color:#141c6e;"><span class="o as">∗</span></div>
<div class="t mr" style="left:2106.3px;top:2380.5px;height:50px;line-height:50px;font-size:34px;color:#141c6e;"><i>n</i><sub>2</sub></div>
<div class="t mr" style="left:2147px;top:2380.5px;height:50px;line-height:50px;font-size:34px;color:#141c6e;"><span class="o">+</span></div>
<div class="t mr" style="left:2183px;top:2380.5px;height:50px;line-height:50px;font-size:34px;color:#141c6e;">1</div>
<div class="t mr" style="left:2206.2px;top:2380.5px;height:50px;line-height:50px;font-size:34px;color:#141c6e;"><span class="o as">∗</span></div>
<div class="t mr" style="left:2231.3px;top:2380.5px;height:50px;line-height:50px;font-size:34px;color:#141c6e;"><i>n</i><sub>1</sub></div>
<div class="t mr" style="left:2272.9px;top:2380.5px;height:50px;line-height:50px;font-size:34px;color:#141c6e;"><span class="o">+</span></div>
<div class="t mr" style="left:2309px;top:2380.5px;height:50px;line-height:50px;font-size:34px;color:#141c6e;">0</div>
<div class="t mr" style="left:2332px;top:2380.5px;height:50px;line-height:50px;font-size:34px;color:#141c6e;"><span class="o as">∗</span></div>
<div class="t mr" style="left:2357.4px;top:2380.5px;height:50px;line-height:50px;font-size:34px;color:#141c6e;"><i>n</i><sub>0</sub></div>
<div class="b " style="left:1978.4px;top:2443.6px;width:260.4px;height:94.1px;background:#dbe1fe;border-radius:10px;"></div>
<div class="t " style="left:1987.4px;top:2448.2px;height:40px;line-height:40px;font-size:21px;color:#1f2d75;">树中的结点总数：</div>
<div class="t mr" style="left:1986.3px;top:2485.7px;height:50px;line-height:50px;font-size:34px;color:#141c6e;"><i>n</i></div>
<div class="t mr" style="left:2009.6px;top:2485.7px;height:50px;line-height:50px;font-size:34px;color:#141c6e;"><span class="o">=</span></div>
<div class="t mr" style="left:2040.6px;top:2485.7px;height:50px;line-height:50px;font-size:34px;color:#141c6e;"><i>n</i><sub>0</sub></div>
<div class="t mr" style="left:2081.7px;top:2485.7px;height:50px;line-height:50px;font-size:34px;color:#141c6e;"><span class="o">+</span></div>
<div class="t mr" style="left:2118px;top:2485.7px;height:50px;line-height:50px;font-size:34px;color:#141c6e;"><i>n</i><sub>1</sub></div>
<div class="t mr" style="left:2158.7px;top:2485.7px;height:50px;line-height:50px;font-size:34px;color:#141c6e;"><span class="o">+</span></div>
<div class="t mr" style="left:2194.1px;top:2485.7px;height:50px;line-height:50px;font-size:34px;color:#141c6e;"><i>n</i><sub>2</sub></div>
<div class="b " style="left:585.2px;top:2672.8px;width:428.2px;height:99.3px;background:#dbe1fe;border-radius:10px;"></div>
<div class="t " style="left:593.5px;top:2677.2px;height:40px;line-height:40px;font-size:21px;color:#1f2d75;">具有n个结点的完全二叉树，若按层次从上到</div>
<div class="t " style="left:593.5px;top:2705.2px;height:40px;line-height:40px;font-size:21px;color:#1f2d75;">下、每一层从左到右对其中的结点从0开始编</div>
<div class="t " style="left:593.5px;top:2733.2px;height:40px;line-height:40px;font-size:21px;color:#1f2d75;">号，则有：</div>
<div class="b " style="left:1052.6px;top:2602.2px;width:466.3px;height:72px;background:#dbe1fe;border-radius:10px;"></div>
<div class="t " style="left:1060.9px;top:2606.8px;height:40px;line-height:40px;font-size:21px;color:#1f2d75;">若i=0，则结点为二叉树的根，无父亲。否则，若</div>
<div class="t " style="left:1060.9px;top:2634.8px;height:40px;line-height:40px;font-size:21px;color:#1f2d75;">i&gt;0，则i结点父结点的编号为(i-1)//2；</div>
<div class="b " style="left:1052.6px;top:2686.2px;width:407.5px;height:72px;background:#dbe1fe;border-radius:10px;"></div>
<div class="t " style="left:1060.9px;top:2690.7px;height:40px;line-height:40px;font-size:21px;color:#1f2d75;">若2*i+1&lt;n，则结点i的左孩子结点的编号为</div>
<div class="t " style="left:1060.9px;top:2718.7px;height:40px;line-height:40px;font-size:21px;color:#1f2d75;">2*i+1；否则结点i无左孩子（叶子结点）；</div>
<div class="b " style="left:1052.6px;top:2770.2px;width:406.4px;height:72px;background:#dbe1fe;border-radius:10px;"></div>
<div class="t " style="left:1060.9px;top:2774.7px;height:40px;line-height:40px;font-size:21px;color:#1f2d75;">若2*i+2&lt;n，则结点的右孩子结点的编号为</div>
<div class="t " style="left:1060.9px;top:2802.7px;height:40px;line-height:40px;font-size:21px;color:#1f2d75;">2*i+2；否则无右孩子。</div>
<div class="b" style="left:1588.3px;top:2547px;width:668.6px;height:349.8px;background:#fff;border:3px solid #0a0a33;border-radius:14px;"></div>
<div class="b g" style="left:1609.2px;top:2559px;width:627px;height:321px;"></div>
<div class="b" style="left:1965.2px;top:2574px;width:9px;height:9px;border-radius:50%;background:#000"></div>
<div class="t sf" style="left:1983.2px;top:2564.6px;height:30px;line-height:30px;font-size:17px;color:#333;">若已知孩子编号为i，其父亲编号</div>
<div class="t sf" style="left:1983.2px;top:2593.7px;height:30px;line-height:30px;font-size:17px;color:#333;">是多少？</div>
<div class="t sf" style="left:1989px;top:2624.7px;height:30px;line-height:30px;font-size:17px;color:#333;"><span class="ck">✓</span></div>
<div class="t sf" style="left:2008.7px;top:2624.7px;height:30px;line-height:30px;font-size:17px;color:#333;">若<span class="ss">i=0</span>，对应根结点，无父亲</div>
<div class="t sf" style="left:1989px;top:2654.9px;height:30px;line-height:30px;font-size:17px;color:#333;"><span class="ck">✓</span></div>
<div class="t sf" style="left:2008.7px;top:2654.9px;height:30px;line-height:30px;font-size:17px;color:#333;">否则，父亲编号为<span class="ss">(i-1)//2</span></div>
<div class="b" style="left:1965.2px;top:2695px;width:9px;height:9px;border-radius:50%;background:#000"></div>
<div class="t sf" style="left:1983.2px;top:2685.5px;height:30px;line-height:30px;font-size:17px;color:#333;">若已知父亲编号为i，其左右孩子</div>
<div class="t sf" style="left:1983.2px;top:2716.2px;height:30px;line-height:30px;font-size:17px;color:#333;">编号分别为多少？</div>
<div class="t sf" style="left:1989px;top:2746.4px;height:30px;line-height:30px;font-size:17px;color:#333;"><span class="ck">✓</span></div>
<div class="t sf" style="left:2008.7px;top:2746.4px;height:30px;line-height:30px;font-size:17px;color:#333;">若2*i+1 &lt; n, 则有左孩子，</div>
<div class="t sf" style="left:2010.3px;top:2776.6px;height:30px;line-height:30px;font-size:17px;color:#333;">左孩子编号为2*i+1</div>
<div class="t sf" style="left:1989px;top:2806.8px;height:30px;line-height:30px;font-size:17px;color:#333;"><span class="ck">✓</span></div>
<div class="t sf" style="left:2008.7px;top:2806.8px;height:30px;line-height:30px;font-size:17px;color:#333;">若2 * i + 2 &lt; n, 则有右孩子,</div>
<div class="t sf" style="left:2010.3px;top:2837.1px;height:30px;line-height:30px;font-size:17px;color:#333;">右孩子编号为2*i+2</div>
</div>
<svg width="2779" height="2974" viewBox="0 0 2779 2974" style="pointer-events:none">
<ellipse cx="889" cy="541.6" rx="31" ry="23" fill="#5b9bd5" stroke="#000" stroke-width="1.6"/>
<line x1="859" y1="579" x2="920" y2="519" stroke="#000" stroke-width="2"/>
<ellipse cx="964" cy="651" rx="28.4" ry="21.5" fill="#5b9bd5" stroke="#000" stroke-width="1.6"/>
<text x="963" y="656.5" font-size="16" fill="#3333cc" text-anchor="middle" font-family="Liberation Serif, serif" font-weight="bold">A</text>
<line x1="903.5" y1="758.6" x2="886.9" y2="786.3" stroke="#000" stroke-width="1.6"/>
<ellipse cx="909" cy="742" rx="22.6" ry="16.8" fill="#5b9bd5" stroke="#000" stroke-width="1.6"/>
<text x="908" y="747.5" font-size="16" fill="#3333cc" text-anchor="middle" font-family="Liberation Serif, serif" font-weight="bold">A</text>
<ellipse cx="881.5" cy="802.4" rx="22.5" ry="16.8" fill="#66ccff" stroke="#000" stroke-width="1.6"/>
<text x="880.5" y="807.9" font-size="16" fill="#3333cc" text-anchor="middle" font-family="Liberation Serif, serif" font-weight="bold">B</text>
<line x1="900" y1="887" x2="926" y2="918" stroke="#000" stroke-width="1.6"/>
<ellipse cx="889" cy="876" rx="21.8" ry="16.5" fill="#5b9bd5" stroke="#000" stroke-width="1.6"/>
<text x="888" y="881.5" font-size="16" fill="#3333cc" text-anchor="middle" font-family="Liberation Serif, serif" font-weight="bold">A</text>
<ellipse cx="936.9" cy="934.6" rx="21.8" ry="16.5" fill="#66ccff" stroke="#000" stroke-width="1.6"/>
<text x="935.9" y="940.1" font-size="16" fill="#3333cc" text-anchor="middle" font-family="Liberation Serif, serif" font-weight="bold">B</text>
<line x1="930" y1="1023" x2="908.5" y2="1050.5" stroke="#000" stroke-width="1.6"/>
<line x1="961" y1="1017.5" x2="981.5" y2="1054" stroke="#000" stroke-width="1.6"/>
<ellipse cx="944" cy="1009" rx="22.6" ry="17" fill="#5b9bd5" stroke="#000" stroke-width="1.6"/>
<text x="943" y="1014.5" font-size="16" fill="#3333cc" text-anchor="middle" font-family="Liberation Serif, serif" font-weight="bold">A</text>
<ellipse cx="909" cy="1067.4" rx="22.6" ry="17" fill="#66ccff" stroke="#3333cc" stroke-width="1.6"/>
<text x="908" y="1072.9" font-size="16" fill="#3333cc" text-anchor="middle" font-family="Liberation Serif, serif" font-weight="bold">B</text>
<ellipse cx="988" cy="1070.7" rx="22.6" ry="17" fill="#66ccff" stroke="#000" stroke-width="1.6"/>
<text x="987" y="1076.2" font-size="16" fill="#3333cc" text-anchor="middle" font-family="Liberation Serif, serif" font-weight="bold">C</text>
<path d="M760,1264.6 C748,1264.8 741.5,1279 739.4,1301" stroke="#0a0a33" stroke-width="3.2" fill="none" stroke-dasharray="12.5 5.5"/>
<path d="M739,1344.8 L739.4,1372" stroke="#0a0a33" stroke-width="3.2" fill="none" stroke-dasharray="13.5 5"/>
<path d="M733,1367.2 L744.4,1375.4 L733.2,1380.8 Z" fill="#0a0a33"/>
<line x1="1355.7" y1="1187.3" x2="1295.5" y2="1232.2" stroke="#000" stroke-width="2.6"/>
<line x1="1355.7" y1="1187.3" x2="1410.7" y2="1232.2" stroke="#000" stroke-width="2.6"/>
<line x1="1295.5" y1="1232.2" x2="1250.8" y2="1293.7" stroke="#000" stroke-width="2.6"/>
<line x1="1295.5" y1="1232.2" x2="1325.2" y2="1293.7" stroke="#000" stroke-width="2.6"/>
<line x1="1410.7" y1="1232.2" x2="1386.2" y2="1294.5" stroke="#000" stroke-width="2.6"/>
<line x1="1410.7" y1="1232.2" x2="1447.9" y2="1294.5" stroke="#000" stroke-width="2.6"/>
<circle cx="1355.7" cy="1187.3" r="15.8" fill="#5b9bd5" stroke="#000" stroke-width="2.6"/>
<text x="1355.7" y="1194.5" font-size="20" fill="#fff" font-weight="bold" text-anchor="middle" font-family="Liberation Sans, sans-serif">1</text>
<circle cx="1295.5" cy="1232.2" r="15.8" fill="#5b9bd5" stroke="#000" stroke-width="2.6"/>
<text x="1295.5" y="1239.4" font-size="20" fill="#fff" font-weight="bold" text-anchor="middle" font-family="Liberation Sans, sans-serif">2</text>
<circle cx="1410.7" cy="1232.2" r="15.8" fill="#5b9bd5" stroke="#000" stroke-width="2.6"/>
<text x="1410.7" y="1239.4" font-size="20" fill="#fff" font-weight="bold" text-anchor="middle" font-family="Liberation Sans, sans-serif">3</text>
<circle cx="1250.8" cy="1293.7" r="15.8" fill="#5b9bd5" stroke="#000" stroke-width="2.6"/>
<text x="1250.8" y="1300.9" font-size="20" fill="#fff" font-weight="bold" text-anchor="middle" font-family="Liberation Sans, sans-serif">4</text>
<circle cx="1325.2" cy="1293.7" r="15.8" fill="#5b9bd5" stroke="#000" stroke-width="2.6"/>
<text x="1325.2" y="1300.9" font-size="20" fill="#fff" font-weight="bold" text-anchor="middle" font-family="Liberation Sans, sans-serif">5</text>
<circle cx="1386.2" cy="1294.5" r="15.8" fill="#5b9bd5" stroke="#000" stroke-width="2.6"/>
<text x="1386.2" y="1301.7" font-size="20" fill="#fff" font-weight="bold" text-anchor="middle" font-family="Liberation Sans, sans-serif">6</text>
<circle cx="1447.9" cy="1294.5" r="15.8" fill="#5b9bd5" stroke="#000" stroke-width="2.6"/>
<text x="1447.9" y="1301.7" font-size="20" fill="#fff" font-weight="bold" text-anchor="middle" font-family="Liberation Sans, sans-serif">7</text>
<line x1="1378.9" y1="1376.4" x2="1337.8" y2="1407.6" stroke="#000" stroke-width="1.8"/>
<line x1="1378.9" y1="1376.4" x2="1416.6" y2="1407.6" stroke="#000" stroke-width="1.8"/>
<line x1="1337.8" y1="1407.6" x2="1307.1" y2="1449.5" stroke="#000" stroke-width="1.8"/>
<line x1="1337.8" y1="1407.6" x2="1358" y2="1449.5" stroke="#000" stroke-width="1.8"/>
<line x1="1416.6" y1="1407.6" x2="1399.9" y2="1449.5" stroke="#000" stroke-width="1.8"/>
<circle cx="1378.9" cy="1376.4" r="10.8" fill="#5b9bd5" stroke="#000" stroke-width="1.8"/>
<text x="1378.9" y="1381.3" font-size="13.5" fill="#fff" font-weight="bold" text-anchor="middle" font-family="Liberation Sans, sans-serif">1</text>
<circle cx="1337.8" cy="1407.6" r="10.8" fill="#5b9bd5" stroke="#000" stroke-width="1.8"/>
<text x="1337.8" y="1412.5" font-size="13.5" fill="#fff" font-weight="bold" text-anchor="middle" font-family="Liberation Sans, sans-serif">2</text>
<circle cx="1416.6" cy="1407.6" r="10.8" fill="#5b9bd5" stroke="#000" stroke-width="1.8"/>
<text x="1416.6" y="1412.5" font-size="13.5" fill="#fff" font-weight="bold" text-anchor="middle" font-family="Liberation Sans, sans-serif">3</text>
<circle cx="1307.1" cy="1449.5" r="10.8" fill="#5b9bd5" stroke="#000" stroke-width="1.8"/>
<text x="1307.1" y="1454.4" font-size="13.5" fill="#fff" font-weight="bold" text-anchor="middle" font-family="Liberation Sans, sans-serif">4</text>
<circle cx="1358" cy="1449.5" r="10.8" fill="#5b9bd5" stroke="#000" stroke-width="1.8"/>
<text x="1358" y="1454.4" font-size="13.5" fill="#fff" font-weight="bold" text-anchor="middle" font-family="Liberation Sans, sans-serif">5</text>
<circle cx="1399.9" cy="1449.5" r="10.8" fill="#5b9bd5" stroke="#000" stroke-width="1.8"/>
<text x="1399.9" y="1454.4" font-size="13.5" fill="#fff" font-weight="bold" text-anchor="middle" font-family="Liberation Sans, sans-serif">6</text>
<line x1="1567.3" y1="1376.9" x2="1526.2" y2="1408.2" stroke="#000" stroke-width="1.8"/>
<line x1="1567.3" y1="1376.9" x2="1605" y2="1408.2" stroke="#000" stroke-width="1.8"/>
<line x1="1526.2" y1="1408.2" x2="1495.4" y2="1449.5" stroke="#000" stroke-width="1.8"/>
<line x1="1526.2" y1="1408.2" x2="1546.3" y2="1449.5" stroke="#000" stroke-width="1.8"/>
<circle cx="1567.3" cy="1376.9" r="10.8" fill="#5b9bd5" stroke="#000" stroke-width="1.8"/>
<text x="1567.3" y="1381.8" font-size="13.5" fill="#fff" font-weight="bold" text-anchor="middle" font-family="Liberation Sans, sans-serif">1</text>
<circle cx="1526.2" cy="1408.2" r="10.8" fill="#5b9bd5" stroke="#000" stroke-width="1.8"/>
<text x="1526.2" y="1413.1" font-size="13.5" fill="#fff" font-weight="bold" text-anchor="middle" font-family="Liberation Sans, sans-serif">2</text>
<circle cx="1605" cy="1408.2" r="10.8" fill="#5b9bd5" stroke="#000" stroke-width="1.8"/>
<text x="1605" y="1413.1" font-size="13.5" fill="#fff" font-weight="bold" text-anchor="middle" font-family="Liberation Sans, sans-serif">3</text>
<circle cx="1495.4" cy="1449.5" r="10.8" fill="#5b9bd5" stroke="#000" stroke-width="1.8"/>
<text x="1495.4" y="1454.4" font-size="13.5" fill="#fff" font-weight="bold" text-anchor="middle" font-family="Liberation Sans, sans-serif">4</text>
<circle cx="1546.3" cy="1449.5" r="10.8" fill="#5b9bd5" stroke="#000" stroke-width="1.8"/>
<text x="1546.3" y="1454.4" font-size="13.5" fill="#fff" font-weight="bold" text-anchor="middle" font-family="Liberation Sans, sans-serif">5</text>
<line x1="1775.8" y1="2620.3" x2="1697.2" y2="2654.8" stroke="#000" stroke-width="1.9"/>
<line x1="1775.8" y1="2620.3" x2="1865" y2="2654.8" stroke="#000" stroke-width="1.9"/>
<line x1="1697.2" y1="2654.8" x2="1652.2" y2="2695.5" stroke="#000" stroke-width="1.9"/>
<line x1="1697.2" y1="2654.8" x2="1730.5" y2="2695.5" stroke="#000" stroke-width="1.9"/>
<line x1="1865" y1="2654.8" x2="1820.4" y2="2695.5" stroke="#000" stroke-width="1.9"/>
<line x1="1865" y1="2654.8" x2="1898.7" y2="2695.5" stroke="#000" stroke-width="1.9"/>
<line x1="1652.2" y1="2695.5" x2="1626.3" y2="2739.6" stroke="#000" stroke-width="1.9"/>
<line x1="1652.2" y1="2695.5" x2="1671.2" y2="2739.6" stroke="#000" stroke-width="1.9"/>
<line x1="1730.5" y1="2695.5" x2="1712.3" y2="2739.6" stroke="#000" stroke-width="1.9"/>
<line x1="1730.5" y1="2695.5" x2="1758.4" y2="2739.6" stroke="#000" stroke-width="1.9"/>
<line x1="1820.4" y1="2695.5" x2="1795.2" y2="2739.6" stroke="#000" stroke-width="1.9"/>
<circle cx="1775.8" cy="2620.3" r="12.8" fill="#5b9bd5" stroke="#000" stroke-width="1.9"/>
<text x="1775.8" y="2625.5" font-size="14.5" fill="#fff" font-weight="bold" text-anchor="middle" font-family="Liberation Sans, sans-serif">a</text>
<circle cx="1697.2" cy="2654.8" r="12.8" fill="#5b9bd5" stroke="#000" stroke-width="1.9"/>
<text x="1697.2" y="2660" font-size="14.5" fill="#fff" font-weight="bold" text-anchor="middle" font-family="Liberation Sans, sans-serif">b</text>
<circle cx="1865" cy="2654.8" r="12.8" fill="#5b9bd5" stroke="#000" stroke-width="1.9"/>
<text x="1865" y="2660" font-size="14.5" fill="#fff" font-weight="bold" text-anchor="middle" font-family="Liberation Sans, sans-serif">c</text>
<circle cx="1652.2" cy="2695.5" r="12.8" fill="#5b9bd5" stroke="#000" stroke-width="1.9"/>
<text x="1652.2" y="2700.7" font-size="14.5" fill="#fff" font-weight="bold" text-anchor="middle" font-family="Liberation Sans, sans-serif">d</text>
<circle cx="1730.5" cy="2695.5" r="12.8" fill="#5b9bd5" stroke="#000" stroke-width="1.9"/>
<text x="1730.5" y="2700.7" font-size="14.5" fill="#fff" font-weight="bold" text-anchor="middle" font-family="Liberation Sans, sans-serif">e</text>
<circle cx="1820.4" cy="2695.5" r="12.8" fill="#5b9bd5" stroke="#000" stroke-width="1.9"/>
<text x="1820.4" y="2700.7" font-size="14.5" fill="#fff" font-weight="bold" text-anchor="middle" font-family="Liberation Sans, sans-serif">f</text>
<circle cx="1898.7" cy="2695.5" r="12.8" fill="#5b9bd5" stroke="#000" stroke-width="1.9"/>
<text x="1898.7" y="2700.7" font-size="14.5" fill="#fff" font-weight="bold" text-anchor="middle" font-family="Liberation Sans, sans-serif">g</text>
<circle cx="1626.3" cy="2739.6" r="12.8" fill="#5b9bd5" stroke="#000" stroke-width="1.9"/>
<text x="1626.3" y="2744.8" font-size="14.5" fill="#fff" font-weight="bold" text-anchor="middle" font-family="Liberation Sans, sans-serif">h</text>
<circle cx="1671.2" cy="2739.6" r="12.8" fill="#5b9bd5" stroke="#000" stroke-width="1.9"/>
<text x="1671.2" y="2744.8" font-size="14.5" fill="#fff" font-weight="bold" text-anchor="middle" font-family="Liberation Sans, sans-serif">i</text>
<circle cx="1712.3" cy="2739.6" r="12.8" fill="#5b9bd5" stroke="#000" stroke-width="1.9"/>
<text x="1712.3" y="2744.8" font-size="14.5" fill="#fff" font-weight="bold" text-anchor="middle" font-family="Liberation Sans, sans-serif">j</text>
<circle cx="1758.4" cy="2739.6" r="12.8" fill="#5b9bd5" stroke="#000" stroke-width="1.9"/>
<text x="1758.4" y="2744.8" font-size="14.5" fill="#fff" font-weight="bold" text-anchor="middle" font-family="Liberation Sans, sans-serif">k</text>
<circle cx="1795.2" cy="2739.6" r="12.8" fill="#5b9bd5" stroke="#000" stroke-width="1.9"/>
<text x="1795.2" y="2744.8" font-size="14.5" fill="#fff" font-weight="bold" text-anchor="middle" font-family="Liberation Sans, sans-serif">l</text>
<text x="1799" y="2620.1" font-size="17" fill="#f00" text-anchor="middle" font-family="Liberation Serif, serif">0</text>
<text x="1722.8" y="2660" font-size="17" fill="#f00" text-anchor="middle" font-family="Liberation Serif, serif">1</text>
<text x="1891" y="2658.8" font-size="17" fill="#f00" text-anchor="middle" font-family="Liberation Serif, serif">2</text>
<text x="1674.3" y="2701.5" font-size="17" fill="#f00" text-anchor="middle" font-family="Liberation Serif, serif">3</text>
<text x="1755.3" y="2700.6" font-size="17" fill="#f00" text-anchor="middle" font-family="Liberation Serif, serif">4</text>
<text x="1845.2" y="2701.1" font-size="17" fill="#f00" text-anchor="middle" font-family="Liberation Serif, serif">5</text>
<text x="1922.7" y="2700.6" font-size="17" fill="#f00" text-anchor="middle" font-family="Liberation Serif, serif">6</text>
<text x="1624" y="2769.3" font-size="17" fill="#f00" text-anchor="middle" font-family="Liberation Serif, serif">7</text>
<text x="1672.4" y="2768.9" font-size="17" fill="#f00" text-anchor="middle" font-family="Liberation Serif, serif">8</text>
<text x="1710.7" y="2768.6" font-size="17" fill="#f00" text-anchor="middle" font-family="Liberation Serif, serif">9</text>
<text x="1759.6" y="2768.6" font-size="17" fill="#f00" text-anchor="middle" font-family="Liberation Serif, serif">10</text>
<text x="1797.2" y="2768.6" font-size="17" fill="#f00" text-anchor="middle" font-family="Liberation Serif, serif">11</text>
</svg>
</div></body></html>
